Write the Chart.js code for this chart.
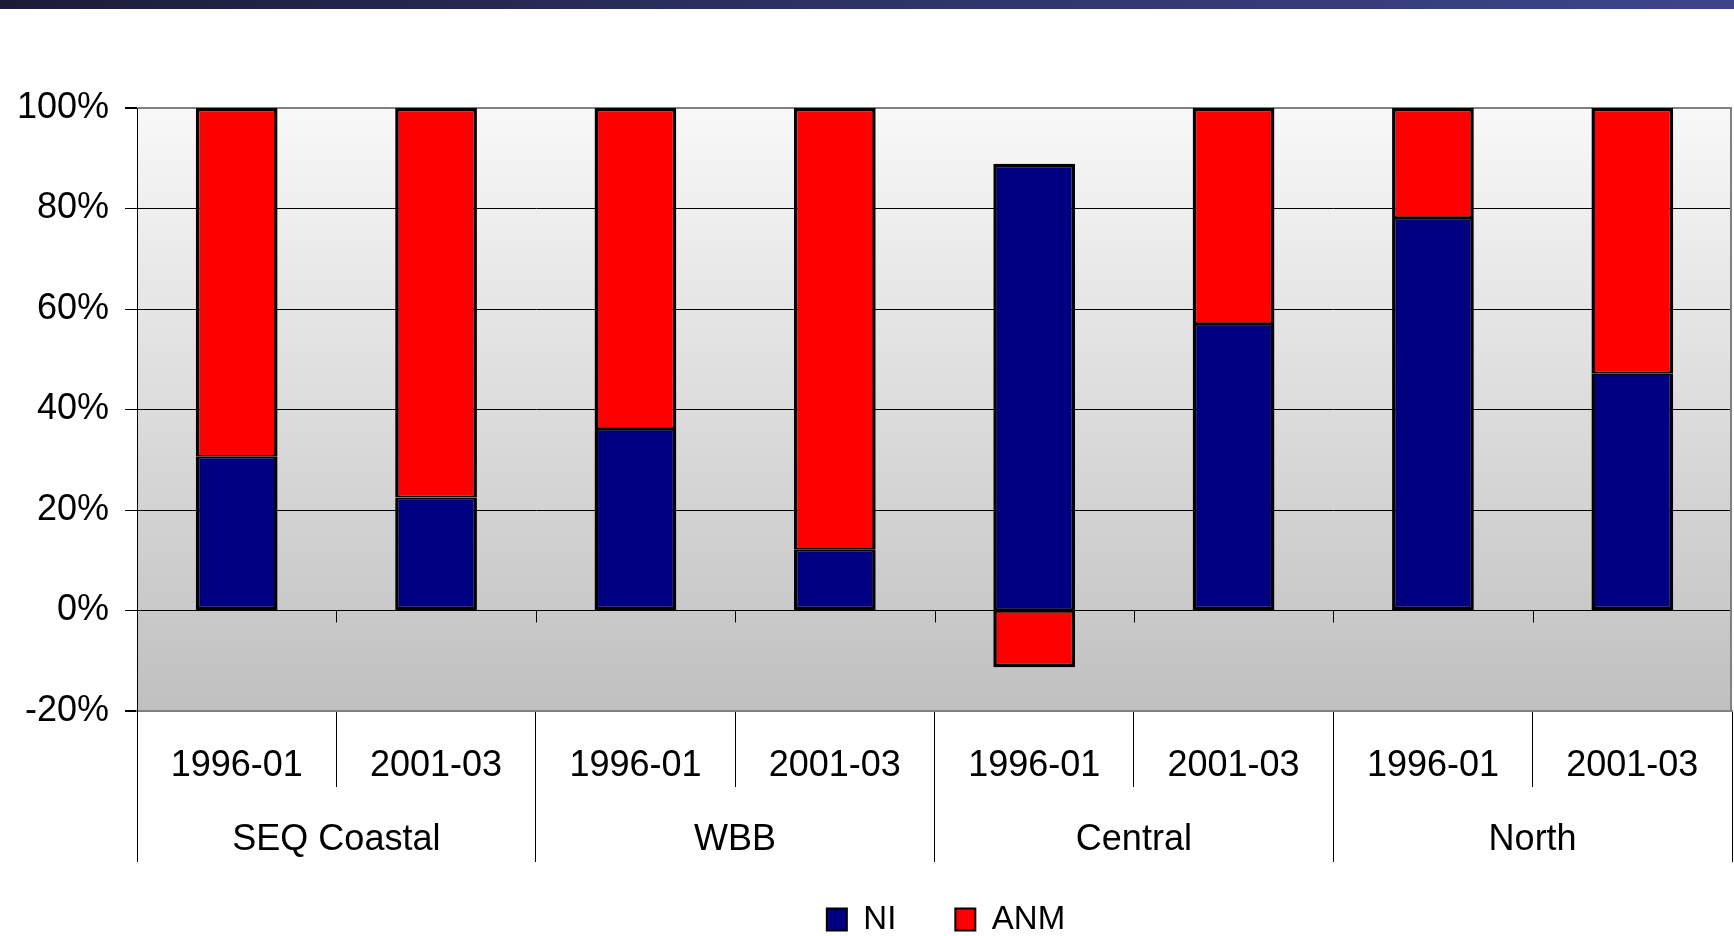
<!DOCTYPE html>
<html>
<head>
<meta charset="utf-8">
<script src="https://cdn.jsdelivr.net/npm/chart.js@4.4.1/dist/chart.umd.min.js"></script>
<style>
html,body{margin:0;padding:0;background:#fff;overflow:hidden}
#wrap{width:1734px;height:936px;position:relative}
canvas{display:block}
</style>
</head>
<body>
<div id="wrap"><canvas id="c" width="1734" height="936"></canvas></div>
<script>
// ---- data ----
const periods = ['1996-01','2001-03','1996-01','2001-03','1996-01','2001-03','1996-01','2001-03'];
const regions = ['SEQ Coastal','WBB','Central','North'];
const seriesNames = ['NI','ANM'];
const niValues  = [30.6, 22.5, 36.1, 12.1, 88.9, 57.0, 78.1, 47.2];
const anmValues = [69.4, 77.5, 63.9, 87.9, -11.3, 43.0, 21.9, 52.8];
const yMin = -20, yMax = 100, yStep = 20;

Chart.defaults.font.family = "'Liberation Sans', Arial, Helvetica, sans-serif";
Chart.defaults.color = '#000';

const decor = {
  id: 'decor',
  beforeDraw(chart) {
    const {ctx, chartArea: a, width, height} = chart;
    ctx.save();
    ctx.fillStyle = '#fff';
    ctx.fillRect(0, 0, width, height);
    const g1 = ctx.createLinearGradient(0, 0, width, 0);
    g1.addColorStop(0, '#1a1c37');
    g1.addColorStop(0.5, '#2e3366');
    g1.addColorStop(1, '#3e458b');
    ctx.fillStyle = g1;
    ctx.fillRect(0, 0, width, 9);
    const g2 = ctx.createLinearGradient(0, a.top, 0, a.bottom);
    g2.addColorStop(0, '#f8f8f8');
    g2.addColorStop(1, '#c0c0c0');
    ctx.fillStyle = g2;
    ctx.fillRect(a.left, a.top, a.right - a.left, a.bottom - a.top);
    ctx.restore();
  },
  afterDatasetsDraw(chart) {
    const {ctx, chartArea: a, scales: {x, y}} = chart;
    ctx.save();
    ctx.strokeStyle = '#808080';
    ctx.lineWidth = 2;
    ctx.beginPath();
    ctx.moveTo(a.right - 1, a.top);
    ctx.lineTo(a.right - 1, a.bottom);
    ctx.stroke();
    const y0 = y.getPixelForValue(0);
    const half = (x.getPixelForValue(1) - x.getPixelForValue(0)) / 2;
    ctx.strokeStyle = '#000';
    ctx.lineWidth = 1;
    ctx.beginPath();
    for (let i = 1; i < periods.length; i++) {
      const px = Math.round(x.getPixelForValue(i) - half) + 0.5;
      ctx.moveTo(px, y0);
      ctx.lineTo(px, y0 + 12);
    }
    ctx.stroke();
    ctx.restore();
  },
  afterLayout(chart) {
    const lg = chart.legend;
    if (!lg) return;
    lg.left += 80; lg.right += 80;
    lg.top -= 18;
  }
};

const niBorder = c => {
  const i = c.dataIndex;
  if (i === undefined) return 3;
  const shared = anmValues[i] >= 0;
  return {left: 3.5, right: 3.5, top: shared ? 1.75 : 3.5, bottom: shared ? 3.5 : 1.75};
};
const anmBorder = c => {
  const i = c.dataIndex;
  if (i === undefined) return 3;
  const neg = anmValues[i] < 0;
  return {left: 3.5, right: 3.5, top: neg ? 1.75 : 3.5, bottom: neg ? 3.5 : 1.75};
};

const edgeLine = c => c.tick && (c.tick.value === yMax || c.tick.value === yMin);

new Chart(document.getElementById('c'), {
  type: 'bar',
  data: {
    labels: periods,
    datasets: [
      {label: seriesNames[0], data: niValues, backgroundColor: '#000080', borderColor: '#000',
       borderWidth: niBorder, borderSkipped: false, barPercentage: 0.41, categoryPercentage: 1},
      {label: seriesNames[1], data: anmValues, backgroundColor: '#ff0000', borderColor: '#000',
       borderWidth: anmBorder, borderSkipped: false, barPercentage: 0.41, categoryPercentage: 1}
    ]
  },
  options: {
    responsive: false,
    devicePixelRatio: 1,
    animation: false,
    layout: {padding: {top: 108, right: 2, bottom: 0, left: 0}},
    scales: {
      x: {
        stacked: true,
        offset: true,
        weight: 0,
        grid: {offset: true, drawOnChartArea: false, drawTicks: true, tickLength: 76, color: '#000', lineWidth: 1},
        border: {display: true, color: '#808080', width: 2},
        ticks: {font: {size: 36}, color: '#000', padding: -43, maxRotation: 0, autoSkip: false},
        afterFit(s) { s.height = 76; }
      },
      x2: {
        type: 'category',
        labels: regions,
        position: 'bottom',
        weight: 1,
        offset: true,
        grid: {offset: true, drawOnChartArea: false, drawTicks: true, tickLength: 75, color: '#000', lineWidth: 1},
        border: {display: false},
        ticks: {font: {size: 36}, color: '#000', padding: -44, maxRotation: 0, autoSkip: false},
        afterFit(s) { s.height = 75; }
      },
      y: {
        stacked: true,
        min: yMin,
        max: yMax,
        ticks: {stepSize: yStep, callback: v => v + '%', font: {size: 36}, color: '#000', padding: 16},
        grid: {
          color: c => edgeLine(c) ? '#808080' : '#000',
          lineWidth: c => edgeLine(c) ? 2 : 1,
          tickColor: '#000', tickLength: 12, drawTicks: true
        },
        border: {color: '#000', width: 1},
        afterFit(s) { s.width = 137; }
      }
    },
    plugins: {
      legend: {
        position: 'bottom',
        maxHeight: 74,
        labels: {
          font: {size: 33}, color: '#000', boxWidth: 20, boxHeight: 22, padding: 59,
          generateLabels(chart) {
            const items = Chart.defaults.plugins.legend.labels.generateLabels(chart);
            items.forEach(it => { it.lineWidth = 2; it.strokeStyle = '#000'; });
            return items;
          }
        }
      },
      tooltip: {enabled: false}
    }
  },
  plugins: [decor]
});
</script>
</body>
</html>
